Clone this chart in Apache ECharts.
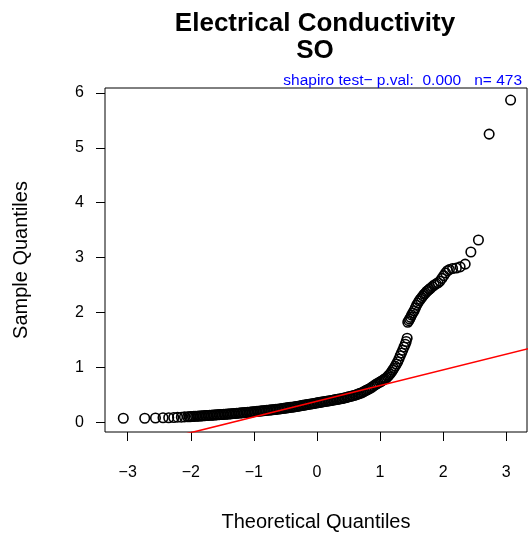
<!DOCTYPE html>
<html>
<head>
<meta charset="utf-8">
<script src="https://cdn.jsdelivr.net/npm/echarts@6/dist/echarts.min.js"></script>
<style>
  html, body { margin: 0; padding: 0; background: #fff; }
  #main { width: 528px; height: 533px; }
</style>
</head>
<body>
<div id="main"></div>
<script>
// theoretical quantiles (x) and sample quantiles (y)
const theoQ = [
  // lower tail
  -3.07, -2.73, -2.56, -2.44, -2.35, -2.27, -2.21, -2.15, -2.10, -2.05, -2.025,
  // flat band
  -2.000, -1.975, -1.950, -1.925, -1.900, -1.875, -1.850, -1.825, -1.800, -1.775,
  -1.750, -1.725, -1.700, -1.675, -1.650, -1.625, -1.600, -1.575, -1.550, -1.525,
  -1.500, -1.475, -1.450, -1.425, -1.400, -1.375, -1.350, -1.325, -1.300, -1.275,
  -1.250, -1.225, -1.200, -1.175, -1.150, -1.125, -1.100, -1.075, -1.050, -1.025,
  -1.000, -0.975, -0.950, -0.925, -0.900, -0.875, -0.850, -0.825, -0.800, -0.775,
  -0.750, -0.725, -0.700, -0.675, -0.650, -0.625, -0.600, -0.575, -0.550, -0.525,
  -0.500, -0.475, -0.450, -0.425, -0.400, -0.375, -0.350, -0.325, -0.300, -0.275,
  -0.250, -0.225, -0.200, -0.175, -0.150, -0.125, -0.100, -0.075, -0.050, -0.025,
  0.000, 0.025, 0.050, 0.075, 0.100, 0.125, 0.150, 0.175, 0.200, 0.225,
  0.250, 0.275, 0.300, 0.325, 0.350, 0.375, 0.400, 0.425, 0.450, 0.475,
  0.500, 0.525, 0.550, 0.575, 0.600, 0.625, 0.650, 0.675, 0.700, 0.725,
  0.750, 0.775, 0.800, 0.825, 0.850, 0.875, 0.900, 0.925, 0.950, 0.975,
  1.000,
  // steep rise
  1.02, 1.04, 1.06, 1.08, 1.10, 1.12, 1.14, 1.16, 1.18, 1.20,
  1.22, 1.24, 1.26, 1.28, 1.30, 1.32, 1.34, 1.36, 1.38, 1.40,
  1.415, 1.43,
  // upper band
  1.44, 1.455, 1.47, 1.485, 1.50, 1.52, 1.54, 1.56, 1.58, 1.60,
  1.62, 1.64, 1.66, 1.68, 1.70, 1.72, 1.74, 1.76, 1.78, 1.80,
  1.83, 1.86, 1.89, 1.92, 1.95, 1.98, 2.01, 2.04, 2.07, 2.10,
  2.15, 2.21, 2.27,
  // upper tail
  2.35, 2.44, 2.56, 2.73, 3.07
];
const sampleQ = [
  0.070, 0.070, 0.075, 0.080, 0.080, 0.085, 0.090, 0.090, 0.095, 0.098, 0.099,
  0.100, 0.102, 0.104, 0.106, 0.108, 0.110, 0.112, 0.114, 0.116, 0.118,
  0.120, 0.122, 0.124, 0.126, 0.128, 0.130, 0.132, 0.134, 0.136, 0.138,
  0.140, 0.142, 0.144, 0.146, 0.148, 0.151, 0.153, 0.156, 0.158, 0.161,
  0.163, 0.166, 0.168, 0.171, 0.173, 0.176, 0.178, 0.181, 0.184, 0.187,
  0.190, 0.193, 0.196, 0.199, 0.202, 0.205, 0.208, 0.211, 0.214, 0.217,
  0.220, 0.223, 0.226, 0.229, 0.232, 0.236, 0.240, 0.244, 0.248, 0.252,
  0.256, 0.260, 0.264, 0.268, 0.272, 0.276, 0.280, 0.285, 0.290, 0.295,
  0.300, 0.305, 0.310, 0.315, 0.320, 0.325, 0.330, 0.335, 0.340, 0.345,
  0.350, 0.355, 0.360, 0.365, 0.370, 0.375, 0.380, 0.385, 0.390, 0.395,
  0.400, 0.405, 0.410, 0.415, 0.420, 0.425, 0.430, 0.437, 0.445, 0.452,
  0.460, 0.467, 0.475, 0.482, 0.490, 0.500, 0.510, 0.520, 0.530, 0.545,
  0.560, 0.575, 0.590, 0.605, 0.620, 0.640, 0.660, 0.680, 0.700, 0.715,
  0.730,
  0.745, 0.760, 0.775, 0.790, 0.805, 0.830, 0.855, 0.880, 0.910, 0.945,
  0.980, 1.020, 1.060, 1.100, 1.150, 1.210, 1.260, 1.310, 1.370, 1.420,
  1.470, 1.530,
  1.82, 1.85, 1.88, 1.91, 1.95, 1.99, 2.03, 2.08, 2.13, 2.17,
  2.21, 2.24, 2.27, 2.30, 2.33, 2.35, 2.38, 2.40, 2.42, 2.44,
  2.47, 2.50, 2.52, 2.54, 2.57, 2.62, 2.67, 2.72, 2.76, 2.78,
  2.80, 2.81, 2.83,
  2.88, 3.10, 3.32, 5.25, 5.87
];

// reference line end points (qqline)
const lineX = [-2.2, 3.5];
const lineY = [-0.249, 1.381];

const xTicks = [-3, -2, -1, 0, 1, 2, 3];
const yTicks = [0, 1, 2, 3, 4, 5, 6];

const points = theoQ.map((x, i) => [x, sampleQ[i]]);
const linePts = lineX.map((x, i) => [x, lineY[i]]);

let option = {
  animation: false,
  backgroundColor: "#fff",
  title: [
    {
      text: "Electrical Conductivity\nSO",
      left: 310,
      top: 5,
      textAlign: "center",
      textStyle: {
        fontFamily: "Liberation Sans",
        fontSize: 26,
        fontWeight: "bold",
        color: "#000",
        lineHeight: 27,
      },
    },
    {
      text: "shapiro test\u2212 p.val:  0.000   n= 473",
      right: 1,
      top: 68,
      textStyle: {
        fontFamily: "Liberation Sans",
        fontSize: 15.5,
        fontWeight: "normal",
        color: "#0000ff",
      },
    },
  ],
  grid: {
    left: 105,
    right: 1,
    top: 88,
    bottom: 101,
    outerBoundsMode: "none",
    show: true,
    borderColor: "#000",
    borderWidth: 1,
    backgroundColor: "transparent",
  },
  xAxis: {
    type: "value",
    min: -3.36,
    max: 3.33,
    name: "Theoretical Quantiles",
    nameLocation: "middle",
    nameGap: 80,
    nameTextStyle: { fontFamily: "Liberation Sans", fontSize: 20, color: "#000" },
    axisLine: { show: false, onZero: false },
    splitLine: { show: false },
    axisTick: { show: true, length: 9, customValues: xTicks, lineStyle: { color: "#000" } },
    axisLabel: {
      customValues: xTicks,
      margin: 33,
      fontFamily: "Liberation Sans",
      fontSize: 16,
      color: "#000",
      formatter: (v) => String(v).replace("-", "\u2212"),
    },
  },
  yAxis: {
    type: "value",
    min: -0.18,
    max: 6.09,
    name: "Sample Quantiles",
    nameLocation: "middle",
    nameGap: 74,
    nameTextStyle: { fontFamily: "Liberation Sans", fontSize: 20, color: "#000" },
    axisLine: { show: false, onZero: false },
    splitLine: { show: false },
    axisTick: { show: true, length: 9, customValues: yTicks, lineStyle: { color: "#000" } },
    axisLabel: {
      customValues: yTicks,
      margin: 21,
      fontFamily: "Liberation Sans",
      fontSize: 16,
      color: "#000",
    },
  },
  series: [
    {
      type: "scatter",
      data: points,
      symbol: "circle",
      symbolSize: 9.5,
      itemStyle: { color: "rgba(0,0,0,0)", borderColor: "#000", borderWidth: 1.6, opacity: 1 },
      z: 2,
    },
    {
      type: "line",
      data: linePts,
      showSymbol: false,
      clip: true,
      lineStyle: { color: "#ff0000", width: 1.6 },
      z: 3,
    },
  ],
};

var myChart = echarts.init(document.getElementById("main"));
myChart.setOption(option);
</script>
</body>
</html>
